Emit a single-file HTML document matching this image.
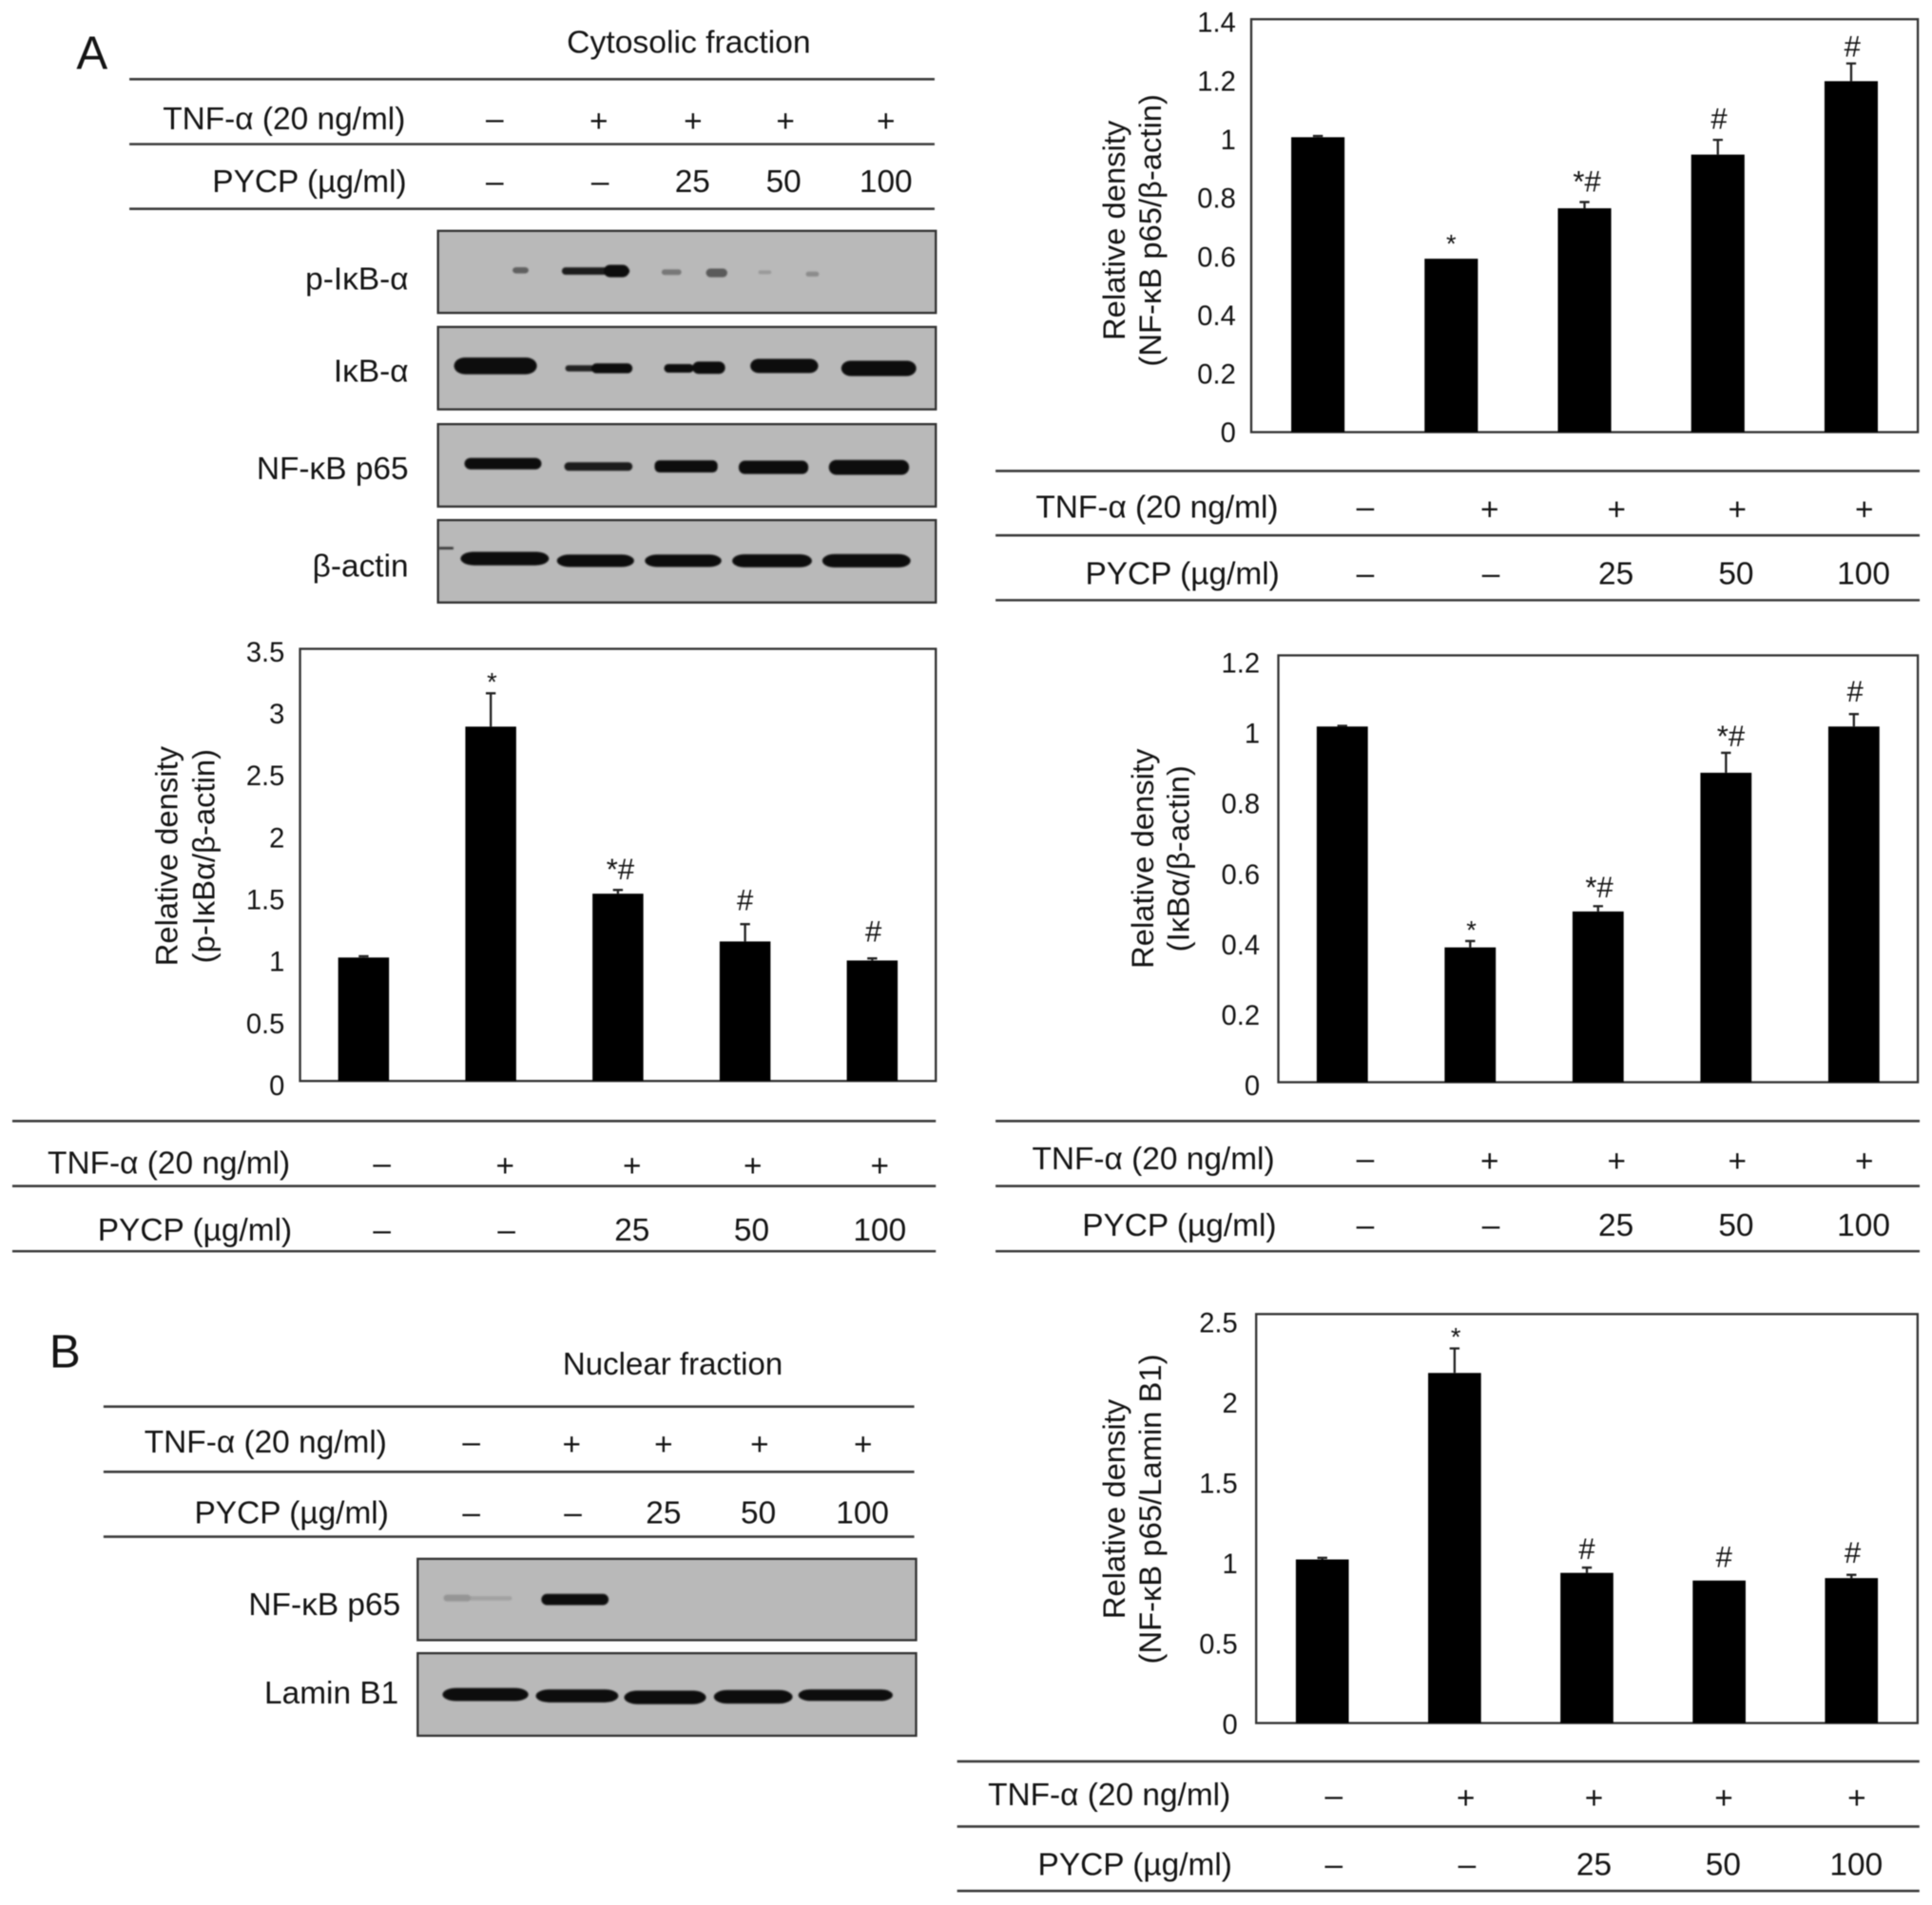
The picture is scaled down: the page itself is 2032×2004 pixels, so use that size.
<!DOCTYPE html>
<html lang="en">
<head>
<meta charset="utf-8">
<title>PYCP effect on NF-κB signalling</title>
<style>
html,body{margin:0;padding:0;background:#fff;}
svg{display:block;filter:blur(0.5px);}
text{font-family:"Liberation Sans",Arial,sans-serif;fill:#141414;}
.row{font-size:25.8px;}
.sym{font-size:25.8px;text-anchor:middle;}
.lab{text-anchor:end;}
.title{font-size:25.3px;text-anchor:middle;}
.rule{stroke:#3c3c3c;stroke-width:2;}
.blot{fill:#b9b9b9;stroke:#333;stroke-width:1.8;}
.band{fill:#070707;}
</style>
</head>
<body>
<svg id="fig" xmlns="http://www.w3.org/2000/svg" width="2032" height="2004" viewBox="0 0 1568 1546.4">
<defs><filter id="soft" x="-20%" y="-80%" width="140%" height="260%"><feGaussianBlur stdDeviation="0.7"/></filter></defs>

<text x="62" y="56" font-size="38">A</text>
<text x="40" y="1110" font-size="38">B</text>
<text x="559" y="43" font-size="26" text-anchor="middle">Cytosolic fraction</text>
<text x="546" y="1115.7" font-size="25.5" text-anchor="middle">Nuclear fraction</text>

<!-- Table: cytosolic western blot header -->
<g>
<line class="rule" x1="105" x2="758.5" y1="64.3" y2="64.3"/>
<line class="rule" x1="105" x2="758.5" y1="117" y2="117"/>
<line class="rule" x1="105" x2="758.5" y1="169.5" y2="169.5"/>
<text class="row lab" x="329" y="105">TNF-α (20 ng/ml)</text>
<text class="row lab" x="330" y="156">PYCP (µg/ml)</text>
<text class="sym" x="401.5" y="105">–</text>
<text class="sym" x="486" y="107">+</text>
<text class="sym" x="562.5" y="107">+</text>
<text class="sym" x="637.5" y="107">+</text>
<text class="sym" x="719" y="107">+</text>
<text class="sym" x="401.5" y="156">–</text>
<text class="sym" x="487" y="156">–</text>
<text class="sym" x="562" y="156">25</text>
<text class="sym" x="636" y="156">50</text>
<text class="sym" x="719" y="156">100</text>
</g>

<!-- Cytosolic blots -->
<g>
<rect class="blot" x="355.5" y="187.4" width="404" height="66.6"/>
<rect class="blot" x="355.5" y="265.4" width="404" height="66.9"/>
<rect class="blot" x="355.5" y="344.3" width="404" height="66.9"/>
<rect class="blot" x="355.5" y="422.2" width="404" height="66.9"/>
<g filter="url(#soft)">
<rect class="band" x="416" y="216.9" width="13" height="5" rx="3" style="fill:#5f5f5f"/>
<rect class="band" x="456" y="217" width="55" height="6" rx="3" style="fill:#1c1c1c"/>
<rect class="band" x="490" y="215" width="20.5" height="10" rx="5"/>
<rect class="band" x="537" y="218.7" width="16" height="4.5" rx="2.2" style="fill:#777"/>
<rect class="band" x="573" y="218" width="17.3" height="7" rx="3.5" style="fill:#5a5a5a"/>
<rect class="band" x="615.5" y="219.5" width="10.5" height="3" rx="1.5" style="fill:#9a9a9a"/>
<rect class="band" x="654" y="220.5" width="10.7" height="4" rx="2" style="fill:#8c8c8c"/>

<rect class="band" x="368.5" y="290.2" width="67.2" height="13.6" rx="9" ry="6.8"/>
<rect class="band" x="458.8" y="296.5" width="30" height="5" rx="2.5" style="fill:#222"/>
<rect class="band" x="480" y="295" width="33.3" height="8" rx="4"/>
<rect class="band" x="539" y="295.5" width="24" height="7" rx="3.5"/>
<rect class="band" x="556" y="296.5" width="12" height="4.5"/>
<rect class="band" x="562" y="293.5" width="26.5" height="10" rx="5"/>
<rect class="band" x="609" y="291.3" width="55" height="11.5" rx="7" ry="5.7"/>
<rect class="band" x="682.8" y="292.8" width="60.8" height="12.5" rx="8" ry="6.2"/>

<rect class="band" x="377" y="371.7" width="62.4" height="9.3" rx="5"/>
<rect class="band" x="458" y="375.2" width="55.3" height="7" rx="3.5" style="fill:#1e1e1e"/>
<rect class="band" x="531.3" y="373.7" width="51.1" height="9.8" rx="4" style="fill:#101010"/>
<rect class="band" x="599.6" y="374" width="56.4" height="10.8" rx="5"/>
<rect class="band" x="672.7" y="373.4" width="65.1" height="12" rx="6"/>

<rect class="band" x="373.8" y="447.9" width="71.7" height="11" rx="11" ry="5.5"/>
<rect class="band" x="452" y="450.2" width="62.6" height="10" rx="10" ry="5"/>
<rect class="band" x="523.4" y="450.2" width="62.1" height="10" rx="10" ry="5"/>
<rect class="band" x="594.3" y="450" width="64.6" height="10.5" rx="10" ry="5.2"/>
<rect class="band" x="667.4" y="449.8" width="71.6" height="10.8" rx="10" ry="5.4"/>
<rect class="band" x="356" y="444" width="12" height="2" style="fill:#333"/>
</g>
<text class="row lab" x="331.5" y="235">p-IκB-α</text>
<text class="row lab" x="331.5" y="310">IκB-α</text>
<text class="row lab" x="331.5" y="389">NF-κB p65</text>
<text class="row lab" x="331.5" y="468">β-actin</text>
</g>

<!-- Table: chart NF-kB p65 / beta-actin -->
<g>
<line class="rule" x1="808" x2="1558" y1="382.3" y2="382.3"/>
<line class="rule" x1="808" x2="1558" y1="434.6" y2="434.6"/>
<line class="rule" x1="808" x2="1558" y1="487.2" y2="487.2"/>
<text class="row lab" x="1037.5" y="420">TNF-α (20 ng/ml)</text>
<text class="row lab" x="1038.5" y="474">PYCP (µg/ml)</text>
<text class="sym" x="1108" y="420">–</text>
<text class="sym" x="1209" y="422">+</text>
<text class="sym" x="1312" y="422">+</text>
<text class="sym" x="1410" y="422">+</text>
<text class="sym" x="1513" y="422">+</text>
<text class="sym" x="1108" y="474">–</text>
<text class="sym" x="1210" y="474">–</text>
<text class="sym" x="1311.5" y="474">25</text>
<text class="sym" x="1409" y="474">50</text>
<text class="sym" x="1512.5" y="474">100</text>
</g>

<!-- Table: chart p-IkBa -->
<g>
<line class="rule" x1="10" x2="759.5" y1="910" y2="910"/>
<line class="rule" x1="10" x2="759.5" y1="962.8" y2="962.8"/>
<line class="rule" x1="10" x2="759.5" y1="1015.7" y2="1015.7"/>
<text class="row lab" x="235.5" y="952.8">TNF-α (20 ng/ml)</text>
<text class="row lab" x="237" y="1007">PYCP (µg/ml)</text>
<text class="sym" x="310" y="953">–</text>
<text class="sym" x="410" y="955">+</text>
<text class="sym" x="513" y="955">+</text>
<text class="sym" x="611" y="955">+</text>
<text class="sym" x="714" y="955">+</text>
<text class="sym" x="310" y="1007">–</text>
<text class="sym" x="411" y="1007">–</text>
<text class="sym" x="513" y="1007">25</text>
<text class="sym" x="610" y="1007">50</text>
<text class="sym" x="714" y="1007">100</text>
</g>

<!-- Table: chart IkBa -->
<g>
<line class="rule" x1="808" x2="1558" y1="910" y2="910"/>
<line class="rule" x1="808" x2="1558" y1="962.8" y2="962.8"/>
<line class="rule" x1="808" x2="1558" y1="1015.7" y2="1015.7"/>
<text class="row lab" x="1034.5" y="949">TNF-α (20 ng/ml)</text>
<text class="row lab" x="1036" y="1003">PYCP (µg/ml)</text>
<text class="sym" x="1108" y="949">–</text>
<text class="sym" x="1209" y="951">+</text>
<text class="sym" x="1312" y="951">+</text>
<text class="sym" x="1410" y="951">+</text>
<text class="sym" x="1513" y="951">+</text>
<text class="sym" x="1108" y="1003">–</text>
<text class="sym" x="1210" y="1003">–</text>
<text class="sym" x="1311.5" y="1003">25</text>
<text class="sym" x="1409" y="1003">50</text>
<text class="sym" x="1512.5" y="1003">100</text>
</g>

<!-- Nuclear header + blots -->
<g>
<line class="rule" x1="84" x2="742" y1="1141.8" y2="1141.8"/>
<line class="rule" x1="84" x2="742" y1="1194.8" y2="1194.8"/>
<line class="rule" x1="84" x2="742" y1="1247.4" y2="1247.4"/>
<text class="row lab" x="314" y="1179">TNF-α (20 ng/ml)</text>
<text class="row lab" x="315.5" y="1236.5">PYCP (µg/ml)</text>
<text class="sym" x="382.5" y="1179">–</text>
<text class="sym" x="464" y="1181">+</text>
<text class="sym" x="538.5" y="1181">+</text>
<text class="sym" x="616.5" y="1181">+</text>
<text class="sym" x="700.5" y="1181">+</text>
<text class="sym" x="382.5" y="1236.5">–</text>
<text class="sym" x="465" y="1236.5">–</text>
<text class="sym" x="538.5" y="1236.5">25</text>
<text class="sym" x="615.5" y="1236.5">50</text>
<text class="sym" x="700" y="1236.5">100</text>
</g>
<g>
<rect class="blot" x="339" y="1265.4" width="404.5" height="66"/>
<rect class="blot" x="339" y="1342" width="404.5" height="67"/>
<g filter="url(#soft)">
<rect class="band" x="362" y="1295.7" width="53.5" height="3.5" rx="1.7" style="fill:#a2a2a2"/>
<rect class="band" x="360" y="1294.5" width="22" height="5.5" rx="2.7" style="fill:#959595"/>
<rect class="band" x="439.4" y="1293.9" width="54.5" height="9" rx="4.5"/>
<rect class="band" x="359.2" y="1370.3" width="69.6" height="10.5" rx="11" ry="5.2"/>
<rect class="band" x="434.9" y="1371.4" width="66.9" height="10.5" rx="11" ry="5.2"/>
<rect class="band" x="506.6" y="1372.4" width="66.4" height="11" rx="11" ry="5.5"/>
<rect class="band" x="579.4" y="1371.9" width="63.8" height="11" rx="11" ry="5.5"/>
<rect class="band" x="648" y="1371.4" width="76.5" height="9.3" rx="10" ry="4.6"/>
</g>
<text class="row lab" x="325" y="1311">NF-κB p65</text>
<text class="row lab" x="323.5" y="1383">Lamin B1</text>
</g>

<!-- Table: chart nuclear p65 / lamin -->
<g>
<line class="rule" x1="776.8" x2="1557.8" y1="1429.8" y2="1429.8"/>
<line class="rule" x1="776.8" x2="1557.8" y1="1482.7" y2="1482.7"/>
<line class="rule" x1="776.8" x2="1557.8" y1="1535" y2="1535"/>
<text class="row lab" x="998.7" y="1465.4">TNF-α (20 ng/ml)</text>
<text class="row lab" x="1000" y="1522">PYCP (µg/ml)</text>
<text class="sym" x="1082.5" y="1466">–</text>
<text class="sym" x="1189.6" y="1468">+</text>
<text class="sym" x="1293.7" y="1468">+</text>
<text class="sym" x="1399" y="1468">+</text>
<text class="sym" x="1507" y="1468">+</text>
<text class="sym" x="1082.5" y="1522">–</text>
<text class="sym" x="1190.6" y="1522">–</text>
<text class="sym" x="1293.7" y="1522">25</text>
<text class="sym" x="1398.5" y="1522">50</text>
<text class="sym" x="1506.5" y="1522">100</text>
</g>

<!-- Axis titles -->
<g transform="translate(913,187) rotate(-90)">
<text class="title" x="0" y="0">Relative density</text>
<text class="title" x="0" y="29">(NF-κB p65/β-actin)</text>
</g>
<g transform="translate(144,695) rotate(-90)">
<text class="title" x="0" y="0">Relative density</text>
<text class="title" x="0" y="30">(p-IκBα/β-actin)</text>
</g>
<g transform="translate(936,697) rotate(-90)">
<text class="title" x="0" y="0">Relative density</text>
<text class="title" x="0" y="29">(IκBα/β-actin)</text>
</g>
<g transform="translate(913,1225) rotate(-90)">
<text class="title" x="0" y="0">Relative density</text>
<text class="title" x="0" y="29">(NF-κB p65/Lamin B1)</text>
</g>

<g id="charts"></g>
</svg>

<script>
// Shared category order (TNF-alpha / PYCP treatments)
const treatments = ['control', 'tnf', 'tnf-pycp-25', 'tnf-pycp-50', 'tnf-pycp-100'];

// NF-kB p65 / beta-actin (cytosolic)
const p65Ticks = ['0', '0.2', '0.4', '0.6', '0.8', '1', '1.2', '1.4'];
const p65Values = [1.0, 0.588, 0.759, 0.941, 1.19];
const p65Errors = [0.004, 0, 0.021, 0.05, 0.06];
const p65Marks = ['', '*', '*#', '#', '#'];

// p-IkBa / beta-actin
const pIkbTicks = ['0', '0.5', '1', '1.5', '2', '2.5', '3', '3.5'];
const pIkbValues = [1.0, 2.87, 1.517, 1.13, 0.976];
const pIkbErrors = [0.01, 0.27, 0.03, 0.14, 0.017];
const pIkbMarks = ['', '*', '*#', '#', '#'];

// IkBa / beta-actin
const ikbTicks = ['0', '0.2', '0.4', '0.6', '0.8', '1', '1.2'];
const ikbValues = [1.0, 0.379, 0.48, 0.87, 1.0];
const ikbErrors = [0.002, 0.018, 0.015, 0.056, 0.035];
const ikbMarks = ['', '*', '*#', '*#', '#'];

// NF-kB p65 / Lamin B1 (nuclear)
const laminTicks = ['0', '0.5', '1', '1.5', '2', '2.5'];
const laminValues = [1.0, 2.14, 0.918, 0.871, 0.886];
const laminErrors = [0.01, 0.15, 0.032, 0, 0.02];
const laminMarks = ['', '*', '#', '#', '#'];

const layouts = [
  {name: 'p65', ticks: p65Ticks, values: p65Values, errors: p65Errors, marks: p65Marks,
   left: 1015.5, right: 1556.5, top: 15.6, bottom: 350.8, max: 1.4, tickGap: 12.5, labelTop: 18, labelBottom: 351,
   gaps: [0, 15, 17, 17.5, 14], shifts: [0, -1, 0, 0, 0]},
  {name: 'p-ikb', ticks: pIkbTicks, values: pIkbValues, errors: pIkbErrors, marks: pIkbMarks,
   left: 243.5, right: 759.5, top: 526.7, bottom: 877.5, max: 3.5, tickGap: 12.5, labelTop: 529, labelBottom: 881,
   gaps: [0, 12, 17, 20, 22], shifts: [0, 0, 0, -1, 0]},
  {name: 'ikb', ticks: ikbTicks, values: ikbValues, errors: ikbErrors, marks: ikbMarks,
   left: 1037.5, right: 1556.5, top: 532, bottom: 878.5, max: 1.2, tickGap: 15, labelTop: 538, labelBottom: 881,
   gaps: [0, 12, 15.6, 14, 18.6], shifts: [0, 0, -1, 2, 0]},
  {name: 'lamin', ticks: laminTicks, values: laminValues, errors: laminErrors, marks: laminMarks,
   left: 1019.5, right: 1556.3, top: 1066.7, bottom: 1398.7, max: 2.5, tickGap: 15, labelTop: 1073.5, labelBottom: 1399.5,
   gaps: [0, 12.5, 15.6, 19.6, 18.4], shifts: [0, 0, -1, 3, 0]}
];

const NS = 'http://www.w3.org/2000/svg';
const root = document.getElementById('charts');

function drawChart(cfg) {
  const g = document.createElementNS(NS, 'g');
  
  
  root.appendChild(g);

  const yScale = v => cfg.bottom - (v / cfg.max) * (cfg.bottom - cfg.top);
  const labelScale = v => cfg.labelBottom - (v / cfg.max) * (cfg.labelBottom - cfg.labelTop);
  const step = (cfg.right - cfg.left) / treatments.length;
  const xScale = i => cfg.left + (i + 0.5) * step;
  const barWidth = step * 0.4;

  const frame = document.createElementNS(NS, 'rect');
  frame.setAttribute('x', cfg.left);
  frame.setAttribute('y', cfg.top);
  frame.setAttribute('width', cfg.right - cfg.left);
  frame.setAttribute('height', cfg.bottom - cfg.top);
  frame.setAttribute('fill', 'none');
  frame.setAttribute('stroke', '#333');
  frame.setAttribute('stroke-width', '1.8');
  
  
  g.appendChild(frame);

  cfg.ticks.forEach(label => {
    const t = document.createElementNS(NS, 'text');
    t.setAttribute('x', cfg.left - cfg.tickGap);
    t.setAttribute('y', labelScale(parseFloat(label)) + 8);
    t.setAttribute('text-anchor', 'end');
    t.setAttribute('font-size', '22.5');
    
    
    t.textContent = label;
    g.appendChild(t);
  });

  treatments.forEach((cat, i) => {
    const v = cfg.values[i];
    const e = cfg.errors[i];
    const cx = xScale(i);
    const barTop = yScale(v);
    const errTop = yScale(v + e);

    const bar = document.createElementNS(NS, 'rect');
    bar.setAttribute('x', cx - barWidth / 2);
    bar.setAttribute('y', barTop);
    bar.setAttribute('width', barWidth);
    bar.setAttribute('height', cfg.bottom - barTop);
    bar.setAttribute('fill', '#000');
    
    
    g.appendChild(bar);

    if (e > 0) {
      const whisker = document.createElementNS(NS, 'path');
      whisker.setAttribute('d', 'M' + cx + ' ' + barTop + 'V' + errTop + 'M' + (cx - 4) + ' ' + errTop + 'H' + (cx + 4));
      whisker.setAttribute('stroke', '#222');
      whisker.setAttribute('stroke-width', '1.8');
      whisker.setAttribute('fill', 'none');
      
      
      g.appendChild(whisker);
    }

    const mark = cfg.marks[i];
    if (mark) {
      const centerY = errTop - cfg.gaps[i];
      const m = document.createElementNS(NS, 'text');
      m.setAttribute('x', cx + (mark === '*#' ? 2 : 1) + cfg.shifts[i]);
      m.setAttribute('y', centerY + (mark === '*' ? 10 : 8.5));
      m.setAttribute('text-anchor', 'middle');
      m.setAttribute('font-size', mark === '*' ? '21' : '24');
      
      
      m.textContent = mark;
      g.appendChild(m);
    }
  });
}

layouts.forEach(drawChart);
</script>
</body>
</html>
